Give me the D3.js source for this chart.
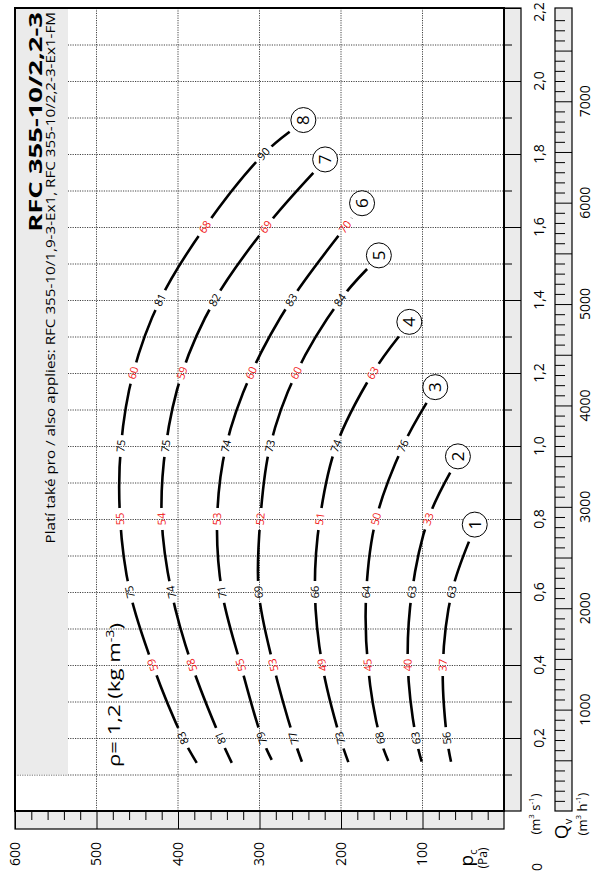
<!DOCTYPE html>
<html>
<head>
<meta charset="utf-8">
<script src="https://cdn.jsdelivr.net/npm/d3@7"></script>
<style>
  body { margin: 0; background: #fff; }
  svg { display: block; font-family: "Open Sans", "Noto Sans", sans-serif; }
</style>
</head>
<body>
<svg id="chart" width="594" height="880"></svg>
<script>
// ---- data ----------------------------------------------------------------
const pressureTicks = [100, 200, 300, 400, 500, 600];           // Pa
const flowTicks = [0.2, 0.4, 0.6, 0.8, 1.0, 1.2, 1.4, 1.6, 1.8, 2.0, 2.2]; // m3/s
const flowHourTicks = [1000, 2000, 3000, 4000, 5000, 6000, 7000];          // m3/h
const curveIds = ["1", "2", "3", "4", "5", "6", "7", "8"];

// operating curves: flow (m3/s) and static pressure (Pa)
const curveFlow = [
  [0.135, 0.2, 0.4, 0.6, 0.738],
  [0.135, 0.2, 0.4, 0.6, 0.8, 0.927],
  [0.137, 0.2, 0.4, 0.6, 0.8, 1.0, 1.118],
  [0.134, 0.2, 0.4, 0.6, 0.8, 1.0, 1.2, 1.30],
  [0.135, 0.2, 0.4, 0.6, 0.8, 1.0, 1.2, 1.4, 1.485],
  [0.140, 0.2, 0.4, 0.6, 0.8, 1.0, 1.2, 1.4, 1.6, 1.625],
  [0.132, 0.2, 0.4, 0.6, 0.8, 1.0, 1.2, 1.4, 1.6, 1.748],
  [0.132, 0.2, 0.4, 0.6, 0.8, 1.0, 1.2, 1.4, 1.6, 1.8, 1.861]
];
const curvePressure = [
  [65, 70, 75, 64, 43],
  [101, 108, 118, 113, 93, 66],
  [142, 152, 167, 169, 157, 124, 95],
  [191, 201, 223, 232, 226, 206, 161, 129],
  [248, 258, 283, 301, 299, 287, 255, 201, 168],
  [285, 297, 323, 346, 352, 341, 310, 261, 195, 187],
  [334, 348, 383, 408, 420, 415, 395, 355, 292, 234],
  [377, 394, 431, 459, 471, 470, 455, 422, 367, 295, 263]
];
// values printed on the curves at 0.2, 0.4, ... m3/s (black / red alternate)
const curveLabels = [
  [56, 37, 63],
  [63, 40, 63, 33],
  [68, 45, 64, 50, 76],
  [73, 49, 66, 51, 74, 63],
  [77, 53, 69, 52, 73, 60, 84],
  [79, 55, 71, 53, 74, 60, 83, 70],
  [81, 58, 74, 54, 75, 59, 82, 69],
  [83, 59, 75, 55, 75, 60, 81, 68, 90]
];

const title = "RFC 355-10/2,2-3";
const subtitle = "Platí také pro / also applies: RFC 355-10/1,9-3-Ex1, RFC 355-10/2,2-3-Ex1-FM";

// ---- layout ---------------------------------------------------------------
const plotL = 15, plotR = 504, plotT = 8, plotB = 811;
const svg = d3.select("#chart");

const x = d3.scaleLinear().domain([0, 600]).range([plotR, plotL]);
const y = d3.scaleLinear().domain([0, 2.2]).range([plotB, plotT]);
const yHour = d3.scaleLinear().domain([0, 2.2 * 3600]).range([plotB, plotT]);

const locale = d3.formatLocale({ decimal: ",", thousands: "", grouping: [3], currency: ["", ""] });
const fmtFlow = locale.format(".1f");

const GRAY = "#ebebeb";
const RED = "#f02020";

// vertical text widened along its reading direction to a given run length
function verticalText(sel, cx, cy, run) {
  const w = sel.node().getBBox().width;
  sel.attr("transform", `translate(${cx},${cy}) rotate(-90) scale(${run / w},1)`);
  return sel;
}

// ---- grid -----------------------------------------------------------------
const grid = svg.append("g")
  .attr("stroke", "#444").attr("stroke-width", 1).attr("stroke-dasharray", "1.2,1.2");
grid.selectAll("line.h").data(y.ticks(22).filter(d => d > 0 && d < 2.2))
  .join("line").attr("class", "h")
  .attr("x1", plotL).attr("x2", plotR)
  .attr("y1", d => y(d) + 0.5).attr("y2", d => y(d) + 0.5);
grid.selectAll("line.v").data(pressureTicks.filter(d => d < 600))
  .join("line").attr("class", "v")
  .attr("x1", d => x(d)).attr("x2", d => x(d))
  .attr("y1", plotT).attr("y2", plotB);

// title panel
svg.append("rect").attr("x", plotL).attr("y", plotT).attr("width", 68 - plotL).attr("height", y(0.1) - plotT)
  .attr("fill", GRAY);
verticalText(svg.append("text")
  .attr("text-anchor", "end").attr("dy", "0.35em")
  .attr("font-size", 18.5).attr("font-weight", "bold")
  .text(title), 36, 12, 220);
verticalText(svg.append("text")
  .attr("text-anchor", "end").attr("dy", "0.35em")
  .attr("font-size", 12)
  .text(subtitle), 51, 12, 532);

// density note
const rho = svg.append("text").attr("dy", "0.35em").attr("font-size", 17);
rho.append("tspan").text("ρ= 1,2 (kg m");
rho.append("tspan").attr("font-size", 11).attr("dy", "-0.55em").text("-3");
rho.append("tspan").attr("dy", "0.45em").text(")");
verticalText(rho, 114, 767, 144);

// ---- curves ---------------------------------------------------------------
const curves = curveFlow.map((qs, i) => qs.map((q, j) => [x(curvePressure[i][j]), y(q)]));

const labelItems = [];
curves.forEach((pts, i) => {
  curveLabels[i].forEach((v, k) => {
    const j = k + 1;
    const p0 = pts[j - 1], p1 = pts[j + 1];
    const ang = Math.atan2(p1[1] - p0[1], p1[0] - p0[0]) * 180 / Math.PI;
    labelItems.push({ x: pts[j][0], y: pts[j][1], ang, text: String(v), red: k % 2 === 1 });
  });
});

const mask = svg.append("defs").append("mask")
  .attr("id", "labelGaps").attr("maskUnits", "userSpaceOnUse")
  .attr("x", 0).attr("y", 0).attr("width", 594).attr("height", 880);
mask.append("rect").attr("width", 594).attr("height", 880).attr("fill", "#fff");
mask.selectAll("rect.gap").data(labelItems).join("rect").attr("class", "gap")
  .attr("x", -11).attr("y", -7).attr("width", 22).attr("height", 14)
  .attr("transform", d => `translate(${d.x},${d.y}) rotate(${d.ang})`)
  .attr("fill", "#000");

const line = d3.line().curve(d3.curveCatmullRom.alpha(0.5));
svg.append("g").attr("mask", "url(#labelGaps)")
  .selectAll("path").data(curves).join("path")
  .attr("d", line)
  .attr("fill", "none").attr("stroke", "#000").attr("stroke-width", 2.6)
  .attr("stroke-linecap", "butt");

svg.append("g").selectAll("text").data(labelItems).join("text")
  .attr("transform", d => `translate(${d.x},${d.y}) rotate(${d.ang})`)
  .attr("text-anchor", "middle").attr("dy", "0.35em")
  .attr("font-size", 11)
  .attr("fill", d => d.red ? RED : "#000")
  .text(d => d.text);

// curve numbers in circles, just past each curve end
const badges = curves.map((pts, i) => {
  const a = pts[pts.length - 2], b = pts[pts.length - 1];
  const dx = b[0] - a[0], dy = b[1] - a[1], n = Math.hypot(dx, dy);
  return { x: b[0] + dx / n * 18, y: b[1] + dy / n * 18, id: curveIds[i] };
});
const badge = svg.append("g").selectAll("g").data(badges).join("g")
  .attr("transform", d => `translate(${d.x},${d.y})`);
badge.append("circle").attr("r", 12.5).attr("fill", "#fff").attr("stroke", "#000").attr("stroke-width", 1);
badge.append("text").attr("transform", "rotate(-90)")
  .attr("text-anchor", "middle").attr("dy", "0.36em").attr("font-size", 17)
  .text(d => d.id);

// ---- axis strips ----------------------------------------------------------
function strip(g) {
  g.select(".domain").remove();
  g.selectAll(".tick line").attr("stroke", "#000").attr("stroke-width", 1);
}
// pressure strip (bottom)
svg.append("rect").attr("x", plotL).attr("y", plotB).attr("width", plotR - plotL).attr("height", 18)
  .attr("fill", GRAY).attr("stroke", "#000").attr("stroke-width", 1.2);
svg.append("g").attr("transform", `translate(0,${plotB})`)
  .call(d3.axisBottom(x).tickValues(d3.range(0, 601, 20).filter(d => d % 100)).tickSize(9).tickFormat(""))
  .call(strip);
svg.append("g").attr("transform", `translate(0,${plotB})`)
  .call(d3.axisBottom(x).tickValues(pressureTicks).tickSize(18).tickFormat(""))
  .call(strip);
svg.append("g").selectAll("text").data(pressureTicks).join("text")
  .attr("transform", d => `translate(${x(d)},854) rotate(-90)`)
  .attr("text-anchor", "middle").attr("dy", "0.35em").attr("font-size", 14)
  .text(d => d);

// flow strip m3/s (right of plot)
svg.append("rect").attr("x", plotR).attr("y", plotT).attr("width", 17).attr("height", plotB - plotT)
  .attr("fill", GRAY).attr("stroke", "#000").attr("stroke-width", 1.2);
svg.append("g").attr("transform", `translate(${plotR},0)`)
  .call(d3.axisRight(y).tickValues(y.ticks(22).filter((d, i) => i % 2 === 1)).tickSize(8).tickFormat(""))
  .call(strip);
svg.append("g").attr("transform", `translate(${plotR},0)`)
  .call(d3.axisRight(y).tickValues(flowTicks).tickSize(17).tickFormat(""))
  .call(strip);
// the topmost label is nudged down so it stays on the page
svg.append("g").selectAll("text").data(flowTicks).join("text")
  .attr("transform", d => `translate(539,${Math.max(y(d), 12)}) rotate(-90)`)
  .attr("text-anchor", "middle").attr("dy", "0.35em").attr("font-size", 14)
  .text(d => fmtFlow(d));

// flow strip m3/h
const hx = 555;
svg.append("rect").attr("x", hx).attr("y", plotT).attr("width", 17).attr("height", plotB - plotT)
  .attr("fill", GRAY).attr("stroke", "#000").attr("stroke-width", 1.2);
svg.append("g").attr("transform", `translate(${hx},0)`)
  .call(d3.axisRight(yHour).tickValues(d3.range(100, 7900, 100).filter(d => d % 500)).tickSize(10).tickFormat(""))
  .call(strip);
svg.append("g").attr("transform", `translate(${hx},0)`)
  .call(d3.axisRight(yHour).tickValues(d3.range(500, 7900, 500)).tickSize(17).tickFormat(""))
  .call(strip);
svg.append("g").selectAll("text").data(flowHourTicks).join("text")
  .attr("transform", d => `translate(585.5,${yHour(d)}) rotate(-90)`)
  .attr("text-anchor", "middle").attr("dy", "0.35em").attr("font-size", 14)
  .text(d => d);

// plot frame
svg.append("rect").attr("x", plotL).attr("y", plotT).attr("width", plotR - plotL).attr("height", plotB - plotT)
  .attr("fill", "none").attr("stroke", "#000").attr("stroke-width", 2);

// axis titles
svg.append("text").attr("transform", "translate(537,867) rotate(-90)")
  .attr("text-anchor", "middle").attr("dy", "0.35em").attr("font-size", 14).text("0");

const pc = svg.append("text").attr("transform", "translate(466,858) rotate(-90)")
  .attr("text-anchor", "middle").attr("dy", "0.35em").attr("font-size", 19);
pc.append("tspan").text("p");
pc.append("tspan").attr("font-size", 11).attr("dy", "0.35em").text("c");
svg.append("text").attr("transform", "translate(483,858) rotate(-90)")
  .attr("text-anchor", "middle").attr("dy", "0.35em").attr("font-size", 12).text("(Pa)");

function unitLabel(cx, cy, base) {
  const t = svg.append("text").attr("transform", `translate(${cx},${cy}) rotate(-90)`)
    .attr("text-anchor", "middle").attr("dy", "0.35em").attr("font-size", 13);
  t.append("tspan").text("(m");
  t.append("tspan").attr("font-size", 8).attr("dy", "-0.7em").text("3");
  t.append("tspan").attr("dy", "0.45em").text(" " + base);
  t.append("tspan").attr("font-size", 8).attr("dy", "-0.7em").text("-1");
  t.append("tspan").attr("dy", "0.45em").text(")");
}
unitLabel(535, 814, "s");
unitLabel(582, 814, "h");

const qv = svg.append("text").attr("transform", "translate(561,829) rotate(-90)")
  .attr("text-anchor", "middle").attr("dy", "0.35em").attr("font-size", 19);
qv.append("tspan").text("Q");
qv.append("tspan").attr("font-size", 11).attr("dy", "0.35em").text("v");
</script>
</body>
</html>
